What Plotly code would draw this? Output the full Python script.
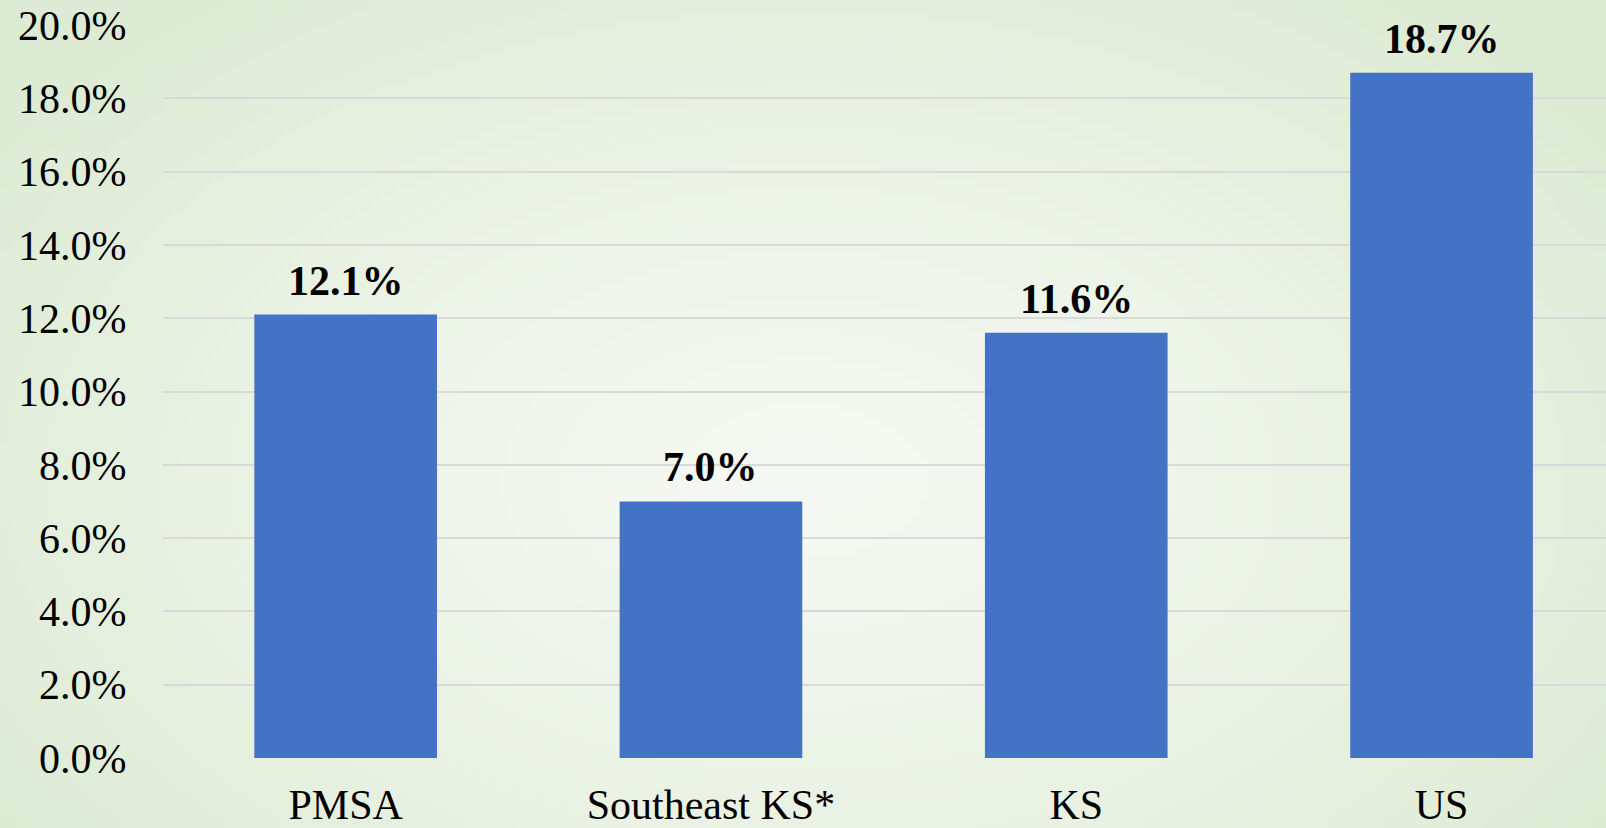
import base64, struct, zlib
import numpy as np
import plotly.graph_objects as go

categories = ["PMSA", "Southeast KS*", "KS", "US"]
values = [0.121, 0.070, 0.116, 0.187]
labels = ["12.1%", "7.0%", "11.6%", "18.7%"]
tick_vals = [0.0, 0.02, 0.04, 0.06, 0.08, 0.10, 0.12, 0.14, 0.16, 0.18, 0.20]
tick_text = ["0.0%", "2.0%", "4.0%", "6.0%", "8.0%", "10.0%", "12.0%", "14.0%", "16.0%", "18.0%", "20.0%"]

W, H = 1606, 828
ML, MR, MT, MB = 163, 0, 25, 70


def gradient_png(w=200, h=104):
    yy, xx = np.mgrid[0:h, 0:w]
    dx = (xx / (w - 1) - 0.5) / 0.62
    dy = (yy / (h - 1) - 0.58) / 0.75
    r = np.clip(np.sqrt(dx * dx + dy * dy), 0, 1)
    c0 = np.array([246, 249, 243], float)
    c1 = np.array([221, 235, 212], float)
    img = c0[None, None, :] + (c1 - c0)[None, None, :] * (r[..., None] ** 1.3)
    img = img.astype(np.uint8)
    raw = b"".join(b"\x00" + img[i].tobytes() for i in range(h))

    def chunk(t, d):
        c = struct.pack(">I", len(d)) + t + d
        return c + struct.pack(">I", zlib.crc32(t + d) & 0xffffffff)

    png = b"\x89PNG\r\n\x1a\n" + chunk(b"IHDR", struct.pack(">IIBBBBB", w, h, 8, 2, 0, 0, 0))
    png += chunk(b"IDAT", zlib.compress(raw, 9)) + chunk(b"IEND", b"")
    return "data:image/png;base64," + base64.b64encode(png).decode()


pw = W - ML - MR
ph = H - MT - MB
xs = list(range(len(categories)))

fig = go.Figure()
fig.add_trace(go.Bar(
    x=xs, y=values, width=0.5,
    marker=dict(color="#4472C4", line=dict(width=0)),
))

annotations = [
    dict(x=x, y=v, text=f"<b>{t}</b>", xref="x", yref="y", showarrow=False,
         yanchor="bottom", yshift=9,
         font=dict(family="Liberation Serif", size=42, color="black"))
    for x, v, t in zip(xs, values, labels)
]

fig.update_layout(
    width=W, height=H,
    margin=dict(l=ML, r=MR, t=MT, b=MB, autoexpand=False),
    paper_bgcolor="#eef4ea", plot_bgcolor="rgba(0,0,0,0)",
    showlegend=False,
    annotations=annotations,
    images=[dict(source=gradient_png(), xref="paper", yref="paper",
                 x=-ML / pw, y=1 + MT / ph, sizex=W / pw, sizey=H / ph,
                 sizing="stretch", layer="below", xanchor="left", yanchor="top")],
    font=dict(family="Liberation Serif", color="black"),
    xaxis=dict(range=[-0.5, (W - ML) / 365.3 - 0.5], tickvals=xs, automargin=False,
               ticktext=categories, showgrid=False, zeroline=False, showline=False,
               ticks="outside", ticklen=10, tickcolor="rgba(0,0,0,0)",
               tickfont=dict(size=42, family="Liberation Serif", color="black")),
    yaxis=dict(range=[0, 0.2], tickvals=tick_vals, ticktext=tick_text, automargin=False,
               showgrid=True, gridcolor="#d9d9d9", gridwidth=2, zeroline=False, showline=False,
               ticks="outside", ticklen=27, tickcolor="rgba(0,0,0,0)",
               tickfont=dict(size=42, family="Liberation Serif", color="black")),
)

fig.write_html("out.html", config={"displayModeBar": False},
               post_script="document.body.style.margin='0';document.body.style.overflow='hidden';")
